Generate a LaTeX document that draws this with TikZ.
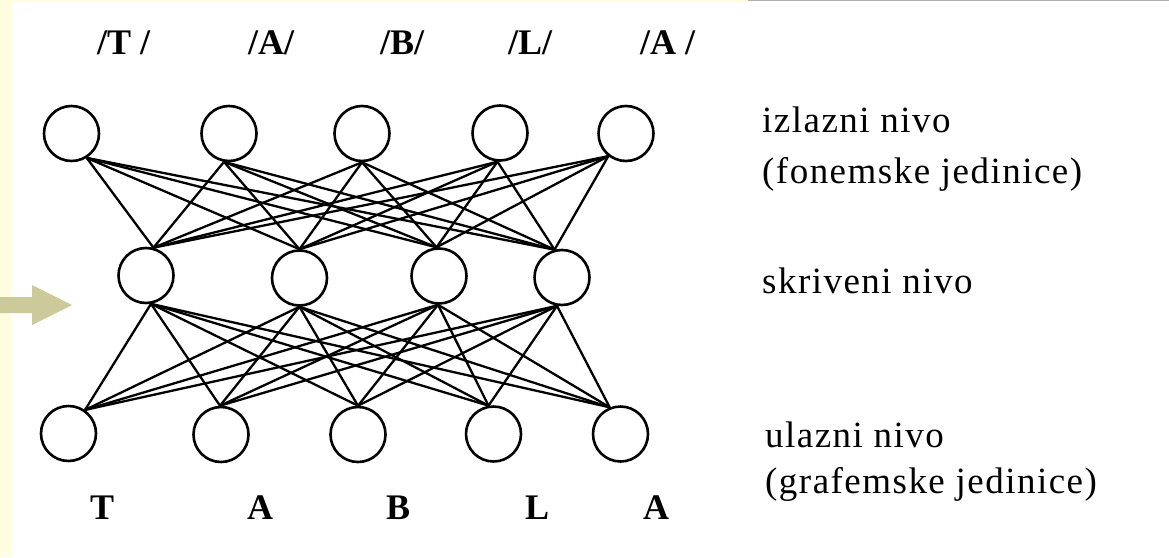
\documentclass[tikz,border=0pt]{standalone}
\usepackage{fontspec}
\setmainfont{Liberation Serif}
\newfontfamily\labelfont[LetterSpace=4]{Liberation Serif}
\begin{document}
\begin{tikzpicture}[x=1pt,y=-1pt,
  neuron/.style={circle,draw,line width=2.6pt,minimum size=55pt,inner sep=0pt},
  link/.style={line width=2.3pt},
  phon/.style={anchor=base west,inner sep=0pt,font=\fontsize{36}{40}\selectfont\bfseries},
  level/.style={anchor=base west,inner sep=0pt,font=\fontsize{37}{42}\selectfont\labelfont}]
% page and frame
\useasboundingbox (0,0) rectangle (1169,557);
\fill[white] (0,0) rectangle (1169,557);
\fill[yellow!12] (0,0) rectangle (11,557);
\fill[yellow!12] (0,0) rectangle (748,1.5);
\draw[gray!60,line width=1pt] (748,0.5) -- (1169,0.5);
% pointer arrow
\fill[olive!40!yellow!40!gray!60] (0,297) -- (32,297) -- (32,285) -- (72,305) -- (32,325) -- (32,313) -- (0,313) -- cycle;
% output layer
\foreach \n/\x/\y in {1/71.5/133.5, 2/229/133.5, 3/362/133.5, 4/500/133, 5/626/133.5}
  \node[neuron] (o\n) at (\x,\y) {};
% hidden layer
\foreach \n/\x/\y in {1/146/275.5, 2/299.5/278, 3/439/276, 4/562/277.5}
  \node[neuron] (h\n) at (\x,\y) {};
% input layer
\foreach \n/\x/\y in {1/68.5/433.5, 2/221/434.5, 3/358/434.5, 4/493.5/434, 5/620.5/434}
  \node[neuron] (i\n) at (\x,\y) {};
% connections hidden -> output
\foreach \o/\a in {1/-58, 2/-100, 3/-90, 4/-95, 5/-128}
  \foreach \h/\b in {1/75, 2/90, 3/95, 4/105}
    \draw[link] (o\o.\a) -- (h\h.\b);
% connections input -> hidden
\foreach \h/\b in {1/-80, 2/-90, 3/-92, 4/-100}
  \foreach \i/\c in {1/55, 2/92, 3/90, 4/100, 5/112}
    \draw[link] (h\h.\b) -- (i\i.\c);
% phoneme labels
\node[phon] (p1) at (97,54) {/T /};
\node[phon] (p2) at (248,54) {/A/};
\node[phon] (p3) at (380,54) {/B/};
\node[phon] (p4) at (508,54) {/L/};
\node[phon] (p5) at (640,54) {/A /};
% grapheme labels
\node[phon] (g1) at (90,519) {T};
\node[phon] (g2) at (247,519) {A};
\node[phon] (g3) at (386,519) {B};
\node[phon] (g4) at (525,519) {L};
\node[phon] (g5) at (643,519) {A};
% level descriptions
\node[level] (t1) at (762,132) {izlazni nivo};
\node[level] (t2) at (762,183) {(fonemske jedinice)};
\node[level] (t3) at (762,293) {skriveni nivo};
\node[level] (t4) at (765,447) {ulazni nivo};
\node[level] (t5) at (765,493) {(grafemske jedinice)};
\end{tikzpicture}
\end{document}
